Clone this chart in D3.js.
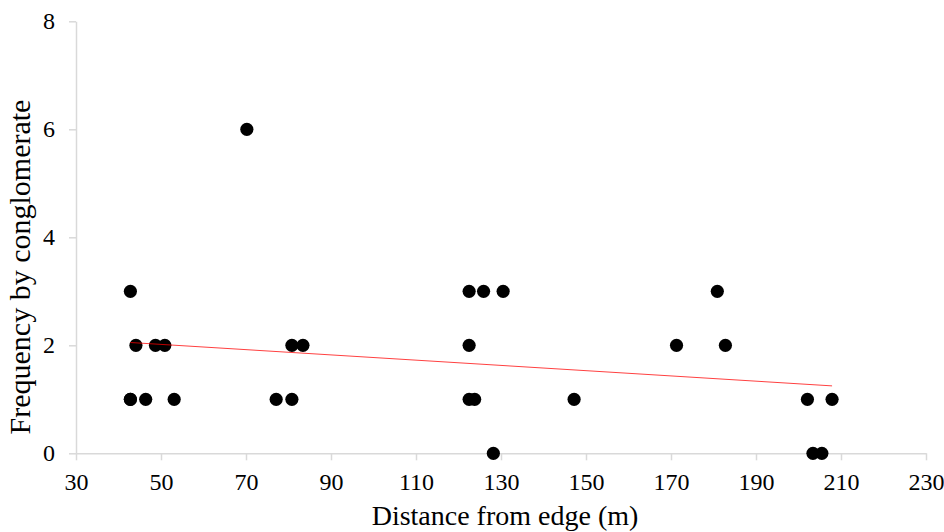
<!DOCTYPE html>
<html>
<head>
<meta charset="utf-8">
<script src="https://cdn.jsdelivr.net/npm/d3@7"></script>
<style>
  html, body { margin: 0; padding: 0; background: #fff; }
  svg { display: block; }
  text { font-family: "Liberation Serif", "Times New Roman", serif; fill: #000; }
</style>
</head>
<body>
<svg id="chart" width="944" height="532"></svg>
<script>
// Distance of each sampled conglomerate from the edge (m); some samples coincide
const distance = [42.8, 44.1, 48.7, 50.9, 42.8, 42.8, 46.4, 53.1, 70.2, 77.1, 80.8, 80.8, 83.4,
                  122.5, 125.9, 130.5, 122.5, 122.5, 123.8, 147.2, 128.2,
                  180.9, 171.3, 182.8, 202.1, 207.9, 203.4, 205.5];
// Frequency recorded for each conglomerate
const frequency = [3, 2, 2, 2, 1, 1, 1, 1, 6, 1, 1, 2, 2,
                   3, 3, 3, 2, 1, 1, 1, 0,
                   3, 2, 2, 1, 1, 0, 0];
const xTicks = [30, 50, 70, 90, 110, 130, 150, 170, 190, 210, 230];
const yTicks = [0, 2, 4, 6, 8];

const svg = d3.select("#chart");
const x = d3.scaleLinear().domain([30, 230]).range([76, 926]);
const y = d3.scaleLinear().domain([0, 8]).range([453.3, 21.3]);
const axisColor = "#d9d9d9";
const serif = "'Liberation Serif', 'Times New Roman', serif";

// X axis
const xAxis = svg.append("g")
  .attr("transform", `translate(0,${y(0)})`)
  .call(d3.axisBottom(x).tickValues(xTicks).tickSize(7).tickSizeOuter(0).tickPadding(13));
xAxis.select(".domain").attr("stroke", axisColor).attr("stroke-width", 1.5);
xAxis.selectAll(".tick line").attr("stroke", axisColor).attr("stroke-width", 1.5);
xAxis.selectAll(".tick text").attr("font-size", 24).attr("font-family", serif).attr("fill", "#000");

// Y axis
const yAxis = svg.append("g")
  .attr("transform", `translate(${x(30)},0)`)
  .call(d3.axisLeft(y).tickValues(yTicks).tickSize(7).tickSizeOuter(0).tickPadding(14));
yAxis.select(".domain").attr("stroke", axisColor).attr("stroke-width", 1.5);
yAxis.selectAll(".tick line").attr("stroke", axisColor).attr("stroke-width", 1.5);
yAxis.selectAll(".tick text").attr("font-size", 24).attr("font-family", serif).attr("fill", "#000");

// Points
const pts = distance.map((d, i) => ({ d, f: frequency[i] }));
svg.append("g").selectAll("circle")
  .data(pts)
  .join("circle")
  .attr("cx", p => x(p.d))
  .attr("cy", p => y(p.f))
  .attr("r", 6.6)
  .attr("fill", "#000");

// Linear least-squares trend line over the sampled range
const mx = d3.mean(distance), my = d3.mean(frequency);
const slope = d3.sum(pts, p => (p.d - mx) * (p.f - my)) / d3.sum(pts, p => (p.d - mx) ** 2);
const intercept = my - slope * mx;
const [x0, x1] = d3.extent(distance);
svg.append("line")
  .attr("x1", x(x0)).attr("y1", y(intercept + slope * x0))
  .attr("x2", x(x1)).attr("y2", y(intercept + slope * x1))
  .attr("stroke", "#ff0000")
  .attr("stroke-width", 0.75);

// Axis titles
svg.append("text")
  .attr("x", 505).attr("y", 525)
  .attr("text-anchor", "middle")
  .attr("font-size", 28)
  .text("Distance from edge (m)");
svg.append("text")
  .attr("transform", "translate(30,267) rotate(-90)")
  .attr("text-anchor", "middle")
  .attr("font-size", 30)
  .text("Frequency by conglomerate");
</script>
</body>
</html>
